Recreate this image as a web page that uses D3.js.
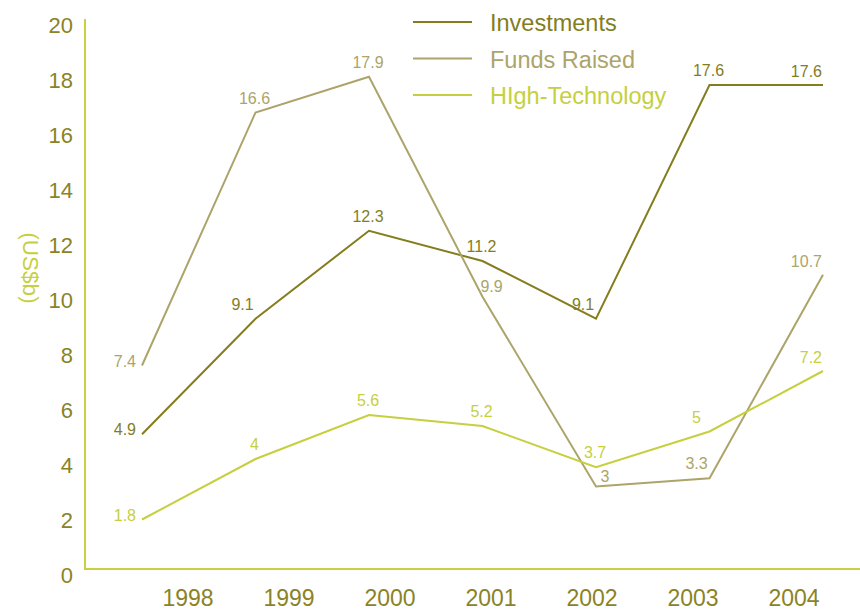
<!DOCTYPE html>
<meta charset="utf-8">
<style>
body { margin: 0; background: #fff; }
text { font-family: "Liberation Sans", Arial, Helvetica, sans-serif; }
</style>
<body>
<script src="https://d3js.org/d3.v7.min.js"></script>
<script>

var width = 860,
    height = 611;

// data
var years = ["1998", "1999", "2000", "2001", "2002", "2003", "2004"];
var investments = [4.9, 9.1, 12.3, 11.2, 9.1, 17.6, 17.6];
var fundsRaised = [7.4, 16.6, 17.9, 9.9, 3, 3.3, 10.7];
var highTech = [1.8, 4, 5.6, 5.2, 3.7, 5, 7.2];
var seriesNames = ["Investments", "Funds Raised", "HIgh-Technology"];
var yTicks = [0, 2, 4, 6, 8, 10, 12, 14, 16, 18, 20];

var colors = ["#847d1e", "#aca46a", "#c6cf3e"];
var tickColor = "#8a8326";
var axisColor = "#c9d13f";

var allValues = [investments, fundsRaised, highTech];
var series = allValues.map(function(vals, k) {
  return { name: seriesNames[k], color: colors[k], values: vals, k: k };
});

var svg = d3.select("body").append("svg")
    .attr("width", width)
    .attr("height", height);

var y = d3.scaleLinear().domain([0, 20]).range([569, 19]);
var x = d3.scalePoint().domain(years).range([142, 823]);
// the year labels sit on their own spacing
var xLab = d3.scalePoint().domain(years).range([188, 794]);

// axes
svg.append("line")
    .attr("x1", 85).attr("x2", 85)
    .attr("y1", y(20)).attr("y2", y(0))
    .attr("stroke", axisColor).attr("stroke-width", 2);
svg.append("line")
    .attr("x1", 84).attr("x2", width)
    .attr("y1", y(0)).attr("y2", y(0))
    .attr("stroke", axisColor).attr("stroke-width", 2);

svg.append("g").selectAll("text")
    .data(yTicks)
  .enter().append("text")
    .attr("x", 73)
    .attr("y", function(d) { return y(d) + 14; })
    .attr("text-anchor", "end")
    .attr("font-size", "22px")
    .attr("fill", tickColor)
    .text(function(d) { return d; });

svg.append("g").selectAll("text")
    .data(years)
  .enter().append("text")
    .attr("x", function(d) { return xLab(d); })
    .attr("y", 606)
    .attr("text-anchor", "middle")
    .attr("font-size", "23px")
    .attr("fill", tickColor)
    .text(function(d) { return d; });

svg.append("text")
    .attr("transform", "translate(23,268) rotate(90)")
    .attr("text-anchor", "middle")
    .attr("font-size", "22.5px")
    .attr("fill", "#c6cf3e")
    .text("(US$b)");

// lines
var line = d3.line()
    .x(function(d, i) { return x(years[i]); })
    .y(function(d) { return y(d); });

svg.append("g").selectAll("path")
    .data(series)
  .enter().append("path")
    .attr("d", function(d) { return line(d.values); })
    .attr("fill", "none")
    .attr("stroke", function(d) { return d.color; })
    .attr("stroke-width", 2);

// value labels, nudged away from steep lines and nearby labels
var last = years.length - 1;
function crowded(s, i) {
  var py = y(s.values[i]);
  return allValues.some(function(v, k) {
    var oy = y(v[i]);
    return k != s.k && oy < py && py - oy < 40;
  });
}
function steepNext(s, i) {
  return i < last && y(s.values[i]) - y(s.values[i + 1]) > 60;
}
series.forEach(function(s) {
  svg.append("g").selectAll("text")
      .data(s.values)
    .enter().append("text")
      .attr("x", function(d, i) {
        var px = x(years[i]);
        if (i == 0) return px - 6;
        if (i == last) return px - 1;
        if (crowded(s, i)) return px + 9;
        if (steepNext(s, i)) return px - 13;
        return px - 1;
      })
      .attr("y", function(d, i) {
        if (i == 0) return y(d) + 1;
        if (i == last) return y(d) - 8;
        if (crowded(s, i)) return y(d) - 5;
        return y(d) - 9;
      })
      .attr("text-anchor", function(d, i) { return (i == 0 || i == last) ? "end" : "middle"; })
      .attr("font-size", "16px")
      .attr("fill", s.color)
      .text(function(d) { return d; });
});

// legend
var legend = svg.append("g").selectAll("g")
    .data(series)
  .enter().append("g")
    .attr("transform", function(d, i) { return "translate(413," + (22 + i * 36.5) + ")"; });

legend.append("line")
    .attr("x1", 0).attr("x2", 59)
    .attr("stroke", function(d) { return d.color; })
    .attr("stroke-width", 2);

legend.append("text")
    .attr("x", 77)
    .attr("y", 9)
    .attr("font-size", "23.5px")
    .attr("fill", function(d) { return d.color; })
    .text(function(d) { return d.name; });

</script>
